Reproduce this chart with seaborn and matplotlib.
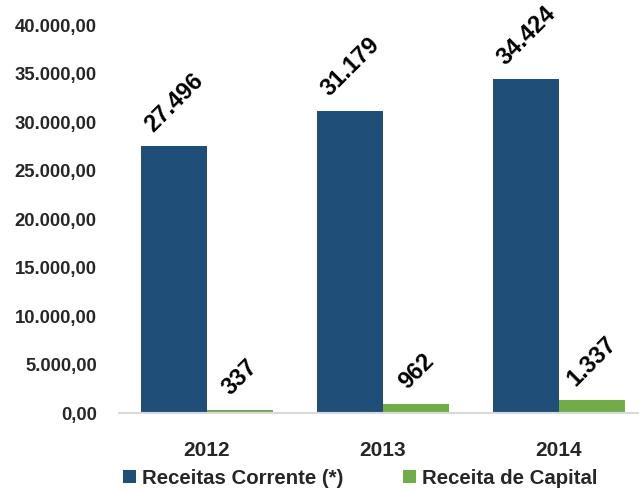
import matplotlib
matplotlib.use("Agg")
import matplotlib.pyplot as plt
import seaborn as sns
import pandas as pd
from matplotlib.ticker import FuncFormatter, MultipleLocator

years = ["2012", "2013", "2014"]
receitas_corrente = [27496, 31179, 34424]
receita_capital = [337, 962, 1337]
series_names = ["Receitas Corrente (*)", "Receita de Capital"]
colors = ["#1F4E79", "#70AD47"]

df = pd.DataFrame({
    "Ano": years * 2,
    "Série": [series_names[0]] * 3 + [series_names[1]] * 3,
    "Valor": receitas_corrente + receita_capital,
})

sns.set_theme(style="white")
plt.rcParams["font.family"] = ["Liberation Sans", "DejaVu Sans"]
plt.rcParams["font.weight"] = "bold"

fig = plt.figure(figsize=(6.39, 4.90), dpi=100)
ax = fig.add_axes([119 / 639, 77 / 490, 528 / 639, 388 / 490])

sns.barplot(data=df, x="Ano", y="Valor", hue="Série", palette=colors,
            width=0.75, gap=0, saturation=1, ax=ax, legend=True,
            edgecolor="none", linewidth=0)

ax.set_ylim(0, 40000)
ax.set_xlim(-0.5, 2.5)
ax.yaxis.set_major_locator(MultipleLocator(5000))

def br_fmt(v, pos):
    s = f"{v:,.2f}"
    return s.replace(",", "X").replace(".", ",").replace("X", ".")

ax.yaxis.set_major_formatter(FuncFormatter(br_fmt))
ax.set_xlabel("")
ax.set_ylabel("")
for s in ["top", "right", "left"]:
    ax.spines[s].set_visible(False)
ax.spines["bottom"].set_color("#d9d9d9")
ax.spines["bottom"].set_linewidth(1.5)
ax.tick_params(axis="y", length=0, pad=16, labelsize=13.3)
ax.tick_params(axis="x", length=0, pad=20, labelsize=15)
for lab in ax.get_xticklabels() + ax.get_yticklabels():
    lab.set_fontweight("bold")

def br_int(v):
    return f"{int(round(v)):,}".replace(",", ".")

for cont in ax.containers:
    labels = [br_int(b.get_height()) for b in cont]
    ax.bar_label(cont, labels=labels, rotation=45, padding=7,
                 fontsize=17, fontweight="bold", color="black")

handles, lbls = ax.get_legend_handles_labels()
ax.get_legend().remove()
fig.legend(handles, lbls, loc="center", bbox_to_anchor=(360 / 639, 1 - 478 / 490),
           ncol=2, frameon=False, prop={"weight": "bold", "size": 14.7},
           handlelength=0.65, handleheight=0.65, handletextpad=0.3,
           columnspacing=2.9)

fig.savefig("out.png", dpi=100)
